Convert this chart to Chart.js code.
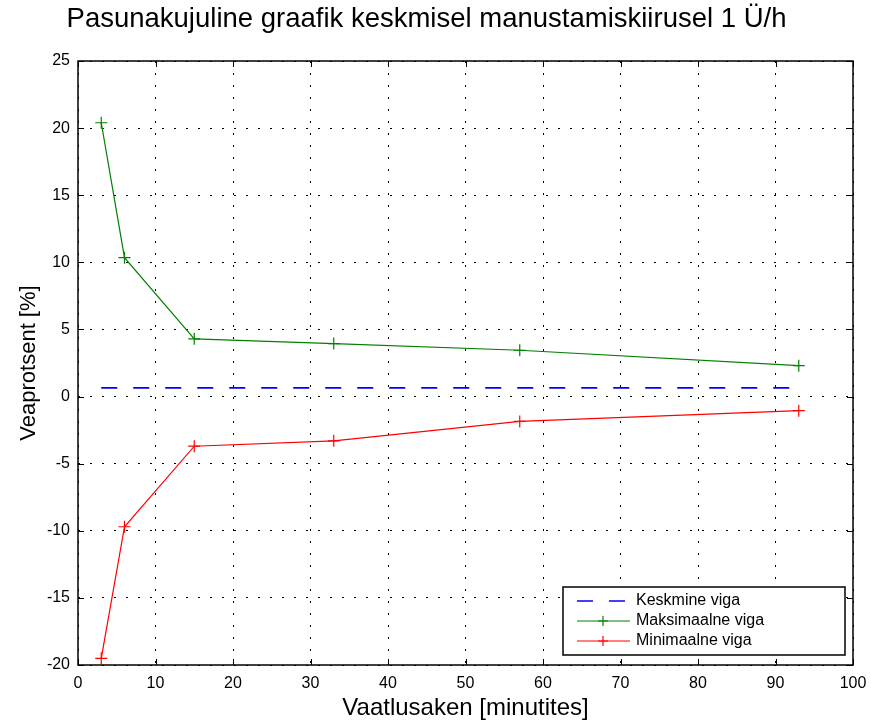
<!DOCTYPE html>
<html>
<head>
<meta charset="utf-8">
<script src="https://cdn.jsdelivr.net/npm/chart.js@4"></script>
<style>
  html, body { margin: 0; padding: 0; background: #fff; }
  #wrap { width: 871px; height: 723px; }
</style>
</head>
<body>
<div id="wrap"><canvas id="myChart"></canvas></div>
<script>
// window sizes in minutes
const windowMinutes = [3, 6, 15, 33, 57, 93];
const maxError = [20.4, 10.35, 4.3, 3.95, 3.45, 2.3];
const minError = [-19.5, -9.7, -3.7, -3.3, -1.85, -1.05];
const meanError = [0.65, 0.65];
const meanRange = [3, 93];

const seriesNames = ['Keskmine viga', 'Maksimaalne viga', 'Minimaalne viga'];
const xTicks = [0, 10, 20, 30, 40, 50, 60, 70, 80, 90, 100];
const yTicks = [-20, -15, -10, -5, 0, 5, 10, 15, 20, 25];

const FONT = '"Liberation Sans", Arial, sans-serif';

function toPoints(xs, ys) {
  return xs.map((x, i) => ({x: x, y: ys[i]}));
}

// frame, inward tick marks and legend box like the matlab figure
const frameAndLegend = {
  id: 'frameAndLegend',
  afterDraw(chart) {
    const ctx = chart.ctx;
    const a = chart.chartArea;
    const xs = chart.scales.x, ys = chart.scales.y;
    ctx.save();
    ctx.strokeStyle = '#000';
    ctx.lineWidth = 1.5;
    ctx.strokeRect(a.left, a.top, a.right - a.left, a.bottom - a.top);
    ctx.lineWidth = 1;
    const t = 6;
    xTicks.forEach(v => {
      const px = Math.round(xs.getPixelForValue(v)) + 0.5;
      ctx.beginPath();
      ctx.moveTo(px, a.bottom); ctx.lineTo(px, a.bottom - t);
      ctx.moveTo(px, a.top); ctx.lineTo(px, a.top + t);
      ctx.stroke();
    });
    yTicks.forEach(v => {
      const py = Math.round(ys.getPixelForValue(v)) + 0.5;
      ctx.beginPath();
      ctx.moveTo(a.left, py); ctx.lineTo(a.left + t, py);
      ctx.moveTo(a.right, py); ctx.lineTo(a.right - t, py);
      ctx.stroke();
    });

    // legend
    const bx = a.right - 290, by = a.bottom - 78, bw = 282, bh = 68;
    ctx.fillStyle = '#fff';
    ctx.fillRect(bx, by, bw, bh);
    ctx.strokeStyle = '#000';
    ctx.lineWidth = 1.5;
    ctx.strokeRect(bx, by, bw, bh);
    ctx.font = '16px ' + FONT;
    ctx.textBaseline = 'middle';
    chart.data.datasets.forEach((ds, i) => {
      const y = by + 14 + i * 20;
      ctx.strokeStyle = ds.borderColor;
      ctx.lineWidth = ds.borderWidth;
      ctx.setLineDash(ds.borderDash || []);
      ctx.beginPath();
      ctx.moveTo(bx + 14, y); ctx.lineTo(bx + 67, y);
      ctx.stroke();
      ctx.setLineDash([]);
      if (ds.pointRadius > 0) {
        const cx = bx + 40;
        ctx.beginPath();
        ctx.moveTo(cx - 5, y); ctx.lineTo(cx + 5, y);
        ctx.moveTo(cx, y - 5); ctx.lineTo(cx, y + 5);
        ctx.stroke();
      }
      ctx.fillStyle = '#000';
      ctx.fillText(ds.label, bx + 73, y);
    });
    ctx.restore();
  }
};

const ctx = document.getElementById('myChart').getContext('2d');
const myChart = new Chart(ctx, {
  type: 'scatter',
  data: {
    datasets: [{
      label: seriesNames[0],
      data: toPoints(meanRange, meanError),
      showLine: true,
      borderColor: '#0000ff',
      borderWidth: 1.6,
      borderDash: [16, 16],
      pointRadius: 0
    }, {
      label: seriesNames[1],
      data: toPoints(windowMinutes, maxError),
      showLine: true,
      borderColor: '#008000',
      borderWidth: 1.2,
      pointStyle: 'cross',
      pointRadius: 6,
      pointBorderWidth: 1.2
    }, {
      label: seriesNames[2],
      data: toPoints(windowMinutes, minError),
      showLine: true,
      borderColor: '#ff0000',
      borderWidth: 1.2,
      pointStyle: 'cross',
      pointRadius: 6,
      pointBorderWidth: 1.2
    }]
  },
  options: {
    responsive: true,
    maintainAspectRatio: false,
    animation: false,
    layout: { padding: { left: 0, right: 18, top: 0, bottom: 0 } },
    plugins: {
      legend: { display: false },
      tooltip: { enabled: false },
      title: {
        display: true,
        text: 'Pasunakujuline graafik keskmisel manustamiskiirusel 1 Ü/h',
        color: '#000',
        font: { family: FONT, size: 27.5, weight: 'normal' },
        padding: { top: 3, bottom: 25 }
      }
    },
    scales: {
      x: {
        type: 'linear',
        min: 0, max: 100,
        afterFit: s => { s.height = 58; s.paddingRight = 0; s.paddingLeft = 0; },
        afterBuildTicks: s => { s.ticks = xTicks.map(v => ({value: v})); },
        ticks: { color: '#000', font: { family: FONT, size: 16 }, padding: 9 },
        grid: { color: '#000', lineWidth: 1, drawTicks: false },
        border: { display: false, dash: [2, 10] },
        title: {
          display: true, text: 'Vaatlusaken [minutites]', color: '#000',
          font: { family: FONT, size: 24 }, padding: { top: 0, bottom: 0 }
        }
      },
      y: {
        type: 'linear',
        min: -20, max: 25,
        afterFit: s => { s.width = 78; },
        afterBuildTicks: s => { s.ticks = yTicks.map(v => ({value: v})); },
        ticks: { color: '#000', font: { family: FONT, size: 16 }, padding: 8 },
        grid: { color: '#000', lineWidth: 1, drawTicks: false },
        border: { display: false, dash: [2, 10] },
        title: {
          display: true, text: 'Veaprotsent [%]', color: '#000',
          font: { family: FONT, size: 22 }, padding: { top: 16, bottom: 0 }
        }
      }
    }
  },
  plugins: [frameAndLegend]
});
</script>
</body>
</html>
